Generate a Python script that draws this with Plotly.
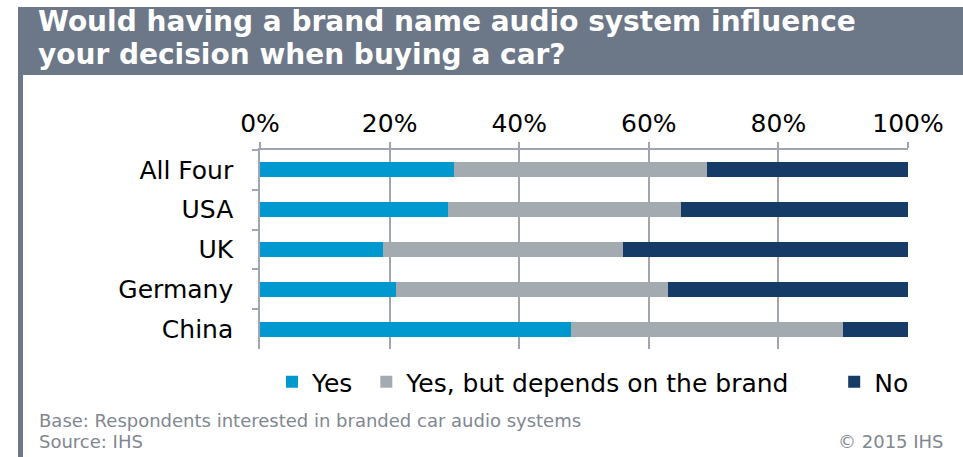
import plotly.graph_objects as go

categories = ["All Four", "USA", "UK", "Germany", "China"]
yes_vals = [30, 29, 19, 21, 48]
depends_vals = [39, 36, 37, 42, 42]
no_vals = [31, 35, 44, 37, 10]
x_ticks = [0, 20, 40, 60, 80, 100]
x_ticklabels = ["0%", "20%", "40%", "60%", "80%", "100%"]
series_names = ["Yes", "Yes, but depends on the brand", "No"]
series_colors = ["#0099CF", "#A3ABB1", "#143C66"]

W, H = 963, 457
L, R, T, B = 260, 55, 150, 108
pw, ph = W - L - R, H - T - B

def px(x):
    return (x - L) / pw

def py(y):
    return (H - B - y) / ph

# trailing non-breaking spaces only widen the gap between legend entries
legend_pad = ["\u00a0", "\u00a0" * 5, ""]

fig = go.Figure()
for name, pad, vals, col in zip(series_names, legend_pad,
                                [yes_vals, depends_vals, no_vals], series_colors):
    fig.add_trace(go.Bar(y=categories, x=vals, name=name + pad, orientation="h",
                         marker=dict(color=col, line=dict(width=0))))

font_main = "DejaVu Sans, Verdana, sans-serif"
grid_col = "#A0A6B1"

fig.update_layout(
    width=W, height=H,
    margin=dict(l=L, r=R, t=T, b=B, pad=0),
    barmode="stack", bargap=0.62,
    plot_bgcolor="white", paper_bgcolor="white",
    font=dict(family=font_main, color="#000000", size=25),
    showlegend=True,
    legend=dict(orientation="h", x=px(272), xanchor="left", y=py(382), yanchor="middle",
                font=dict(size=25, color="#000000"), traceorder="normal",
                itemsizing="constant", bgcolor="rgba(0,0,0,0)"),
    xaxis=dict(side="top", range=[0, 100], tickvals=x_ticks, ticktext=x_ticklabels,
               showgrid=True, gridcolor=grid_col, gridwidth=1.5,
               showline=True, linecolor=grid_col, linewidth=1.5,
               ticks="outside", ticklen=6, tickcolor=grid_col, tickwidth=1.5,
               ticklabelstandoff=0, zeroline=False, mirror=False,
               tickfont=dict(size=25)),
    yaxis=dict(autorange="reversed", showline=True, linecolor=grid_col, linewidth=1.5,
               ticks="outside", ticklen=6, tickcolor=grid_col, tickwidth=1.5,
               tickson="boundaries", showgrid=False, ticklabelstandoff=20,
               tickfont=dict(size=25)),
)

shapes = [
    dict(type="rect", xref="paper", yref="paper", x0=px(18), x1=px(963), y0=py(75), y1=py(7),
         fillcolor="#6C7788", line=dict(width=0), layer="below"),
    dict(type="rect", xref="paper", yref="paper", x0=px(18), x1=px(23), y0=py(457), y1=py(75),
         fillcolor="#6C7788", line=dict(width=0), layer="below"),
]
fig.update_layout(shapes=shapes)

title_font = dict(family=font_main, size=28, color="white")
foot_font = dict(family=font_main, size=18, color="#7F8790")
annotations = [
    dict(text="<b>Would having a brand name audio system influence</b>", x=px(36), y=py(21),
         xref="paper", yref="paper", xanchor="left", yanchor="middle", showarrow=False, font=title_font),
    dict(text="<b>your decision when buying a car?</b>", x=px(36), y=py(54.5),
         xref="paper", yref="paper", xanchor="left", yanchor="middle", showarrow=False, font=title_font),
    dict(text="Base: Respondents interested in branded car audio systems", x=px(37), y=py(420),
         xref="paper", yref="paper", xanchor="left", yanchor="middle", showarrow=False, font=foot_font),
    dict(text="Source: IHS", x=px(37), y=py(441),
         xref="paper", yref="paper", xanchor="left", yanchor="middle", showarrow=False, font=foot_font),
    dict(text="© 2015 IHS", x=px(946), y=py(441),
         xref="paper", yref="paper", xanchor="right", yanchor="middle", showarrow=False, font=foot_font),
]
fig.update_layout(annotations=annotations)

fig.write_html("out.html")
